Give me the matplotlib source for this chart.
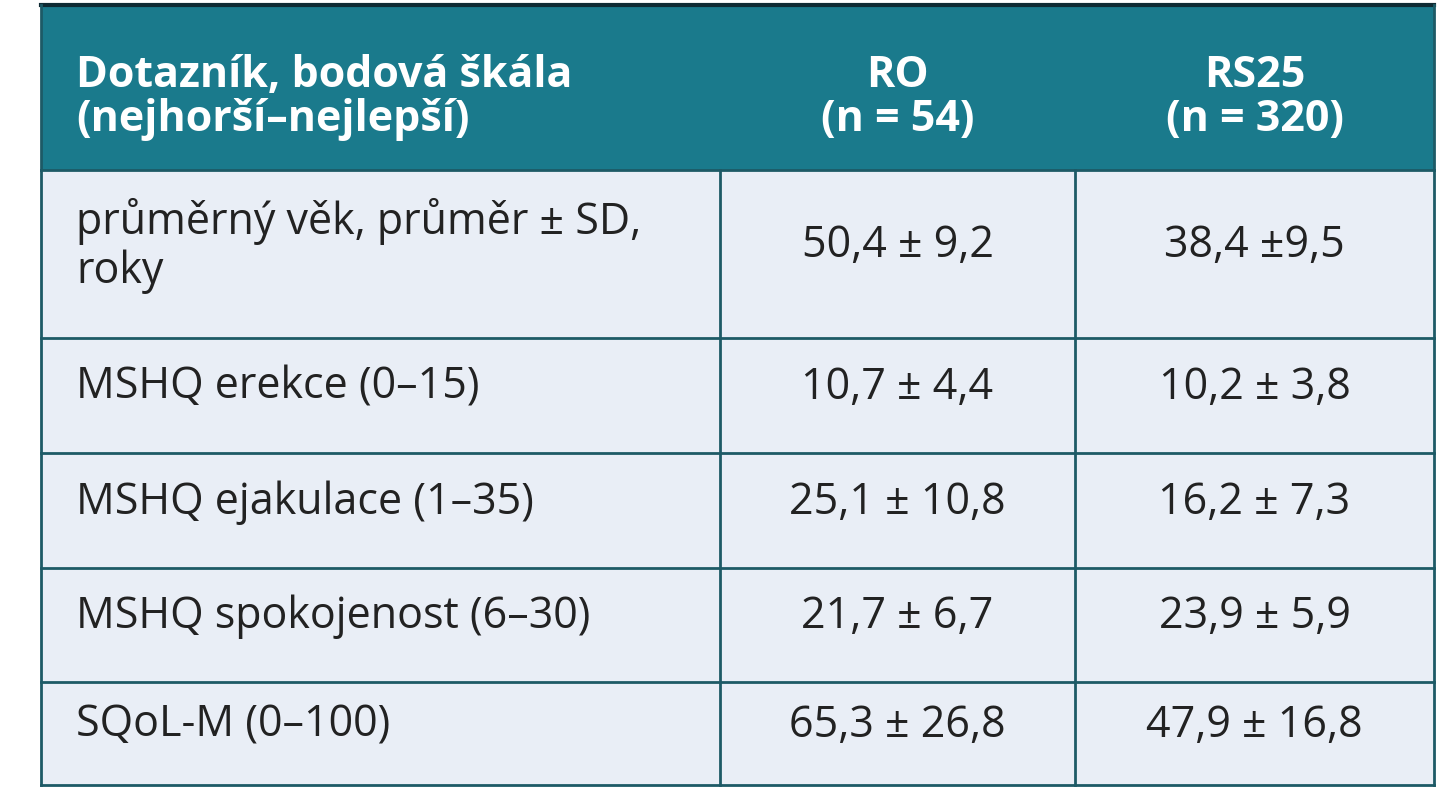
import matplotlib
matplotlib.use('Agg')
import matplotlib.pyplot as plt
from matplotlib.patches import Rectangle

header = ["Dotazník, bodová škála\n(nejhorší\u2013nejlepší)", "RO\n(n = 54)", "RS25\n(n = 320)"]
row_labels = [
    "průměrný věk, průměr \u00b1 SD,\nroky",
    "MSHQ erekce (0\u201315)",
    "MSHQ ejakulace (1\u201335)",
    "MSHQ spokojenost (6\u201330)",
    "SQoL-M (0\u2013100)",
]
ro_values = ["50,4 \u00b1 9,2", "10,7 \u00b1 4,4", "25,1 \u00b1 10,8", "21,7 \u00b1 6,7", "65,3 \u00b1 26,8"]
rs25_values = ["38,4 \u00b19,5", "10,2 \u00b1 3,8", "16,2 \u00b1 7,3", "23,9 \u00b1 5,9", "47,9 \u00b1 16,8"]

plt.rcParams['font.family'] = ['Open Sans', 'DejaVu Sans']

fig = plt.figure(figsize=(14.55, 8), dpi=100)
ax = fig.add_axes([0, 0, 1, 1])
ax.set_xlim(0, 1455)
ax.set_ylim(800, 0)
ax.axis('off')

col_x = [41, 720, 1075, 1434]
row_y = [5, 170, 338, 453, 568, 682, 785]
teal = '#1a7a8c'
line = '#1d5a66'
body = '#e9eef6'
fs = 31

# header
ax.add_patch(Rectangle((col_x[0], row_y[0]), col_x[-1] - col_x[0], row_y[1] - row_y[0],
                       facecolor=teal, edgecolor='none'))
ax.plot([col_x[0], col_x[-1]], [row_y[0], row_y[0]], color='#0e2a33', lw=3)
# body
ax.add_patch(Rectangle((col_x[0], row_y[1]), col_x[-1] - col_x[0], row_y[-1] - row_y[1],
                       facecolor=body, edgecolor='none'))
for y in row_y[1:]:
    ax.plot([col_x[0], col_x[-1]], [y, y], color=line, lw=2)
for x in col_x:
    ax.plot([x, x], [row_y[1], row_y[-1]], color=line, lw=2)
ax.plot([col_x[0], col_x[0]], [row_y[0], row_y[1]], color=line, lw=2)
ax.plot([col_x[-1], col_x[-1]], [row_y[0], row_y[1]], color=line, lw=2)

hy = (row_y[0] + row_y[1]) / 2 + 10
ax.text(76, hy, header[0], ha='left', va='center', color='white', fontsize=fs,
        fontweight='bold', linespacing=1.05)
ax.text((col_x[1] + col_x[2]) / 2, hy, header[1], ha='center', va='center', color='white',
        fontsize=fs, fontweight='bold', linespacing=1.05)
ax.text((col_x[2] + col_x[3]) / 2, hy, header[2], ha='center', va='center', color='white',
        fontsize=fs, fontweight='bold', linespacing=1.05)

for i, (lab, a, b) in enumerate(zip(row_labels, ro_values, rs25_values)):
    yc = (row_y[i + 1] + row_y[i + 2]) / 2 - 8
    ax.text(76, yc, lab, ha='left', va='center', color='#222222', fontsize=fs, linespacing=1.15)
    ax.text((col_x[1] + col_x[2]) / 2, yc, a, ha='center', va='center', color='#222222', fontsize=fs)
    ax.text((col_x[2] + col_x[3]) / 2, yc, b, ha='center', va='center', color='#222222', fontsize=fs)

fig.savefig('out.png', dpi=100)
